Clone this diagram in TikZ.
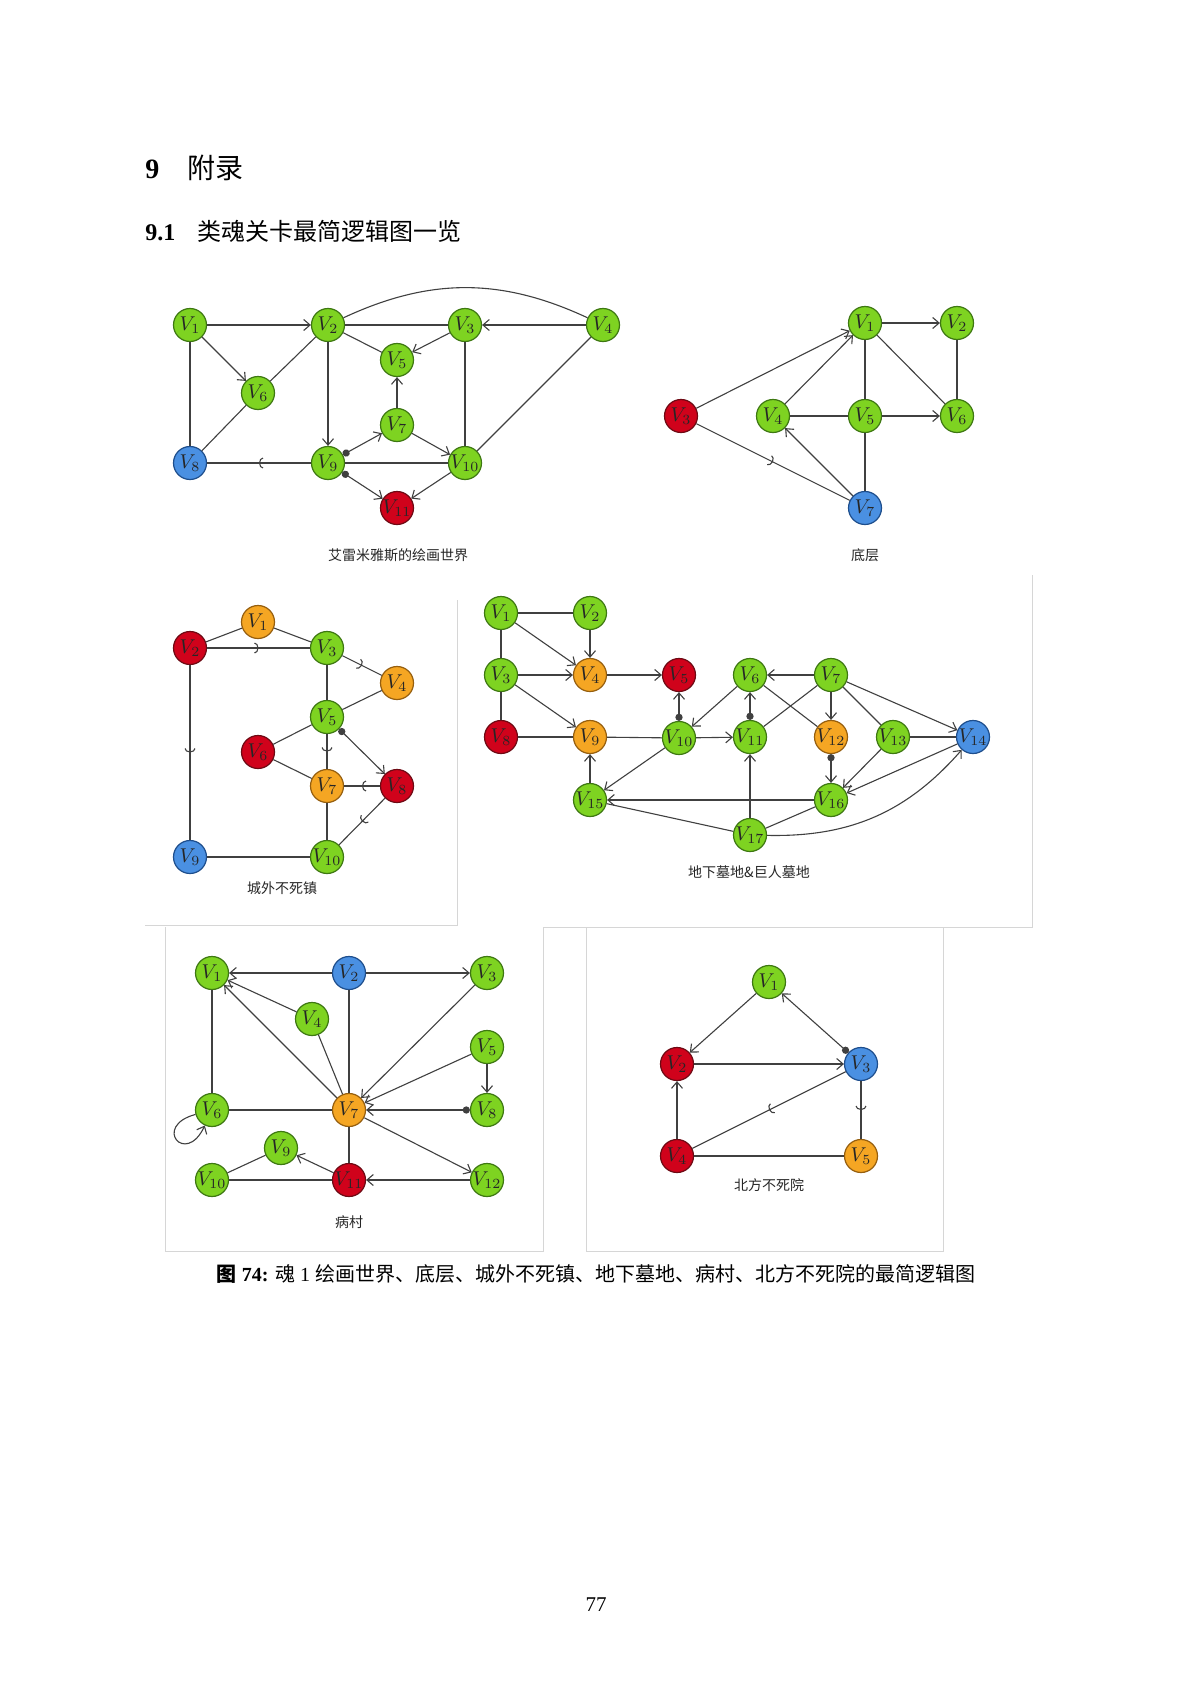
\documentclass[tikz,border=0pt]{standalone}
\usepackage{amsmath}
\usepackage{fontspec}
\setmainfont{Liberation Serif}
\newfontfamily\cjk{Noto Sans CJK SC}
\usepackage{tikz}
\usetikzlibrary{arrows.meta}
\usetikzlibrary{decorations.markings}

\definecolor{vgreen}{RGB}{126,211,33}
\definecolor{vgreenline}{RGB}{62,120,18}
\definecolor{vblue}{RGB}{74,144,226}
\definecolor{vblueline}{RGB}{30,78,140}
\definecolor{vred}{RGB}{208,2,27}
\definecolor{vredline}{RGB}{110,10,20}
\definecolor{vorange}{RGB}{245,166,35}
\definecolor{vorangeline}{RGB}{150,95,15}
\definecolor{edgegray}{RGB}{64,64,64}
\definecolor{framegray}{RGB}{214,214,214}

\tikzset{
	vtx/.style={circle, minimum size=16.5pt, inner sep=0pt, line width=0.6pt, text=black!85, font=\fontsize{10}{10}\selectfont},
	gv/.style={vtx, fill=vgreen, draw=vgreenline},
	bv/.style={vtx, fill=vblue, draw=vblueline},
	rv/.style={vtx, fill=vred, draw=vredline},
	ov/.style={vtx, fill=vorange, draw=vorangeline},
	ln/.style={draw=edgegray, line width=0.55pt},
	dotarr/.style={{Circle[length=3.6pt]}->},
	arcmark/.style={decoration={markings, mark=at position 0.5 with {\arrow{Arc Barb[width=5.5pt, length=2pt]}}}, postaction={decorate}},
	panelcap/.style={font=\cjk\fontsize{7}{7}\selectfont, text=black!85},
	panelline/.style={draw=framegray, line width=0.5pt},
	txt/.style={inner sep=0pt, anchor=base west},
}

\begin{document}
\begin{tikzpicture}[x=0.5pt, y=0.5pt, >={Straight Barb[length=3.2pt, width=5.5pt]}]
			\useasboundingbox [fill=white] (0, 0) rectangle (1192, -1686);
			% headings
			\node at (145, -178) [txt, font=\fontsize{14}{14}\selectfont\bfseries] (secnum) {9};
			\node at (187, -178) [txt, font=\cjk\fontsize{14}{14}\selectfont] (sectitle) {附录};
			\node at (145, -240) [txt, font=\fontsize{12}{12}\selectfont\bfseries] (subsecnum) {9.1};
			\node at (197, -240) [txt, font=\cjk\fontsize{12}{12}\selectfont] (subsectitle) {类魂关卡最简逻辑图一览};
			% panel borders
			\draw [panelline] (457, -600) -- (457, -925) -- (145, -925);
			\draw [panelline] (543, -927) -- (1032, -927) -- (1032, -575);
			\draw [panelline] (543, -927) -- (543, -1251) -- (165, -1251) -- (165, -927);
			\draw [panelline] (586, -927) -- (586, -1251) -- (943, -1251) -- (943, -927);

			% 绘画世界
			\node at (190, -325) [gv] (paint1) {$V_{1}$};
			\node at (328, -325) [gv] (paint2) {$V_{2}$};
			\node at (465, -325) [gv] (paint3) {$V_{3}$};
			\node at (603, -325) [gv] (paint4) {$V_{4}$};
			\node at (397, -360) [gv] (paint5) {$V_{5}$};
			\node at (258, -393) [gv] (paint6) {$V_{6}$};
			\node at (397, -425) [gv] (paint7) {$V_{7}$};
			\node at (190, -463) [bv] (paint8) {$V_{8}$};
			\node at (328, -463) [gv] (paint9) {$V_{9}$};
			\node at (465, -463) [gv] (paint10) {$V_{10}$};
			\node at (397, -508) [rv] (paint11) {$V_{11}$};
			\node at (398, -555) [panelcap] (paintcap) {艾雷米雅斯的绘画世界};
			\draw [->, ln](paint1) -- (paint2);
			\draw [->, ln](paint1) -- (paint6);
			\draw [ln](paint1) -- (paint8);
			\draw [ln](paint2) -- (paint6);
			\draw [ln](paint6) -- (paint8);
			\draw [ln](paint2) -- (paint3);
			\draw [ln](paint2) -- (paint5);
			\draw [->, ln](paint2) -- (paint9);
			\draw [ln](paint2) to [bend left=25] (paint4);
			\draw [->, ln](paint3) -- (paint5);
			\draw [->, ln](paint4) -- (paint3);
			\draw [ln](paint3) -- (paint10);
			\draw [ln](paint4) -- (paint10);
			\draw [->, ln](paint7) -- (paint5);
			\draw [dotarr, ln](paint9) -- (paint7);
			\draw [->, ln](paint7) -- (paint10);
			\draw [ln](paint9) -- (paint10);
			\draw [ln, arcmark](paint9) -- (paint8);
			\draw [dotarr, ln](paint9) -- (paint11);
			\draw [->, ln](paint10) -- (paint11);

			% 底层
			\node at (865, -323) [gv] (base1) {$V_{1}$};
			\node at (957, -323) [gv] (base2) {$V_{2}$};
			\node at (681, -416) [rv] (base3) {$V_{3}$};
			\node at (773, -416) [gv] (base4) {$V_{4}$};
			\node at (865, -416) [gv] (base5) {$V_{5}$};
			\node at (957, -416) [gv] (base6) {$V_{6}$};
			\node at (865, -508) [bv] (base7) {$V_{7}$};
			\node at (865, -555) [panelcap] (basecap) {底层};
			\draw [->, ln](base1) -- (base2);
			\draw [->, ln](base3) -- (base1);
			\draw [->, ln](base4) -- (base1);
			\draw [ln](base1) -- (base5);
			\draw [ln](base1) -- (base6);
			\draw [ln](base2) -- (base6);
			\draw [ln](base4) -- (base5);
			\draw [->, ln](base5) -- (base6);
			\draw [ln](base5) -- (base7);
			\draw [->, ln](base7) -- (base4);
			\draw [ln, arcmark](base3) -- (base7);

			% 城外不死镇
			\node at (258, -622) [ov] (town1) {$V_{1}$};
			\node at (190, -648) [rv] (town2) {$V_{2}$};
			\node at (327, -648) [gv] (town3) {$V_{3}$};
			\node at (397, -683) [ov] (town4) {$V_{4}$};
			\node at (327, -717) [gv] (town5) {$V_{5}$};
			\node at (258, -752) [rv] (town6) {$V_{6}$};
			\node at (327, -786) [ov] (town7) {$V_{7}$};
			\node at (397, -786) [rv] (town8) {$V_{8}$};
			\node at (190, -857) [bv] (town9) {$V_{9}$};
			\node at (327, -857) [gv] (town10) {$V_{10}$};
			\node at (282, -888) [panelcap] (towncap) {城外不死镇};
			\draw [ln](town1) -- (town2);
			\draw [ln](town1) -- (town3);
			\draw [ln, arcmark](town2) -- (town3);
			\draw [ln, arcmark](town3) -- (town4);
			\draw [ln](town3) -- (town5);
			\draw [ln](town4) -- (town5);
			\draw [ln](town5) -- (town6);
			\draw [ln, arcmark](town5) -- (town7);
			\draw [dotarr, ln](town5) -- (town8);
			\draw [ln](town6) -- (town7);
			\draw [ln, arcmark](town8) -- (town7);
			\draw [ln](town7) -- (town10);
			\draw [ln, arcmark](town8) -- (town10);
			\draw [ln, arcmark](town2) -- (town9);
			\draw [ln](town9) -- (town10);

			% 地下墓地&巨人墓地
			\node at (501, -613) [gv] (tomb1) {$V_{1}$};
			\node at (590, -613) [gv] (tomb2) {$V_{2}$};
			\node at (501, -675) [gv] (tomb3) {$V_{3}$};
			\node at (590, -675) [ov] (tomb4) {$V_{4}$};
			\node at (679, -675) [rv] (tomb5) {$V_{5}$};
			\node at (750, -675) [gv] (tomb6) {$V_{6}$};
			\node at (831, -675) [gv] (tomb7) {$V_{7}$};
			\node at (501, -737) [rv] (tomb8) {$V_{8}$};
			\node at (590, -737) [ov] (tomb9) {$V_{9}$};
			\node at (679, -738) [gv] (tomb10) {$V_{10}$};
			\node at (750, -737) [gv] (tomb11) {$V_{11}$};
			\node at (831, -737) [ov] (tomb12) {$V_{12}$};
			\node at (893, -737) [gv] (tomb13) {$V_{13}$};
			\node at (973, -737) [bv] (tomb14) {$V_{14}$};
			\node at (590, -800) [gv] (tomb15) {$V_{15}$};
			\node at (831, -800) [gv] (tomb16) {$V_{16}$};
			\node at (750, -835) [gv] (tomb17) {$V_{17}$};
			\node at (749, -872) [panelcap] (tombcap) {地下墓地\&巨人墓地};
			\draw [ln](tomb1) -- (tomb2);
			\draw [ln](tomb1) -- (tomb3);
			\draw [->, ln](tomb1) -- (tomb4);
			\draw [->, ln](tomb2) -- (tomb4);
			\draw [->, ln](tomb3) -- (tomb4);
			\draw [ln](tomb3) -- (tomb8);
			\draw [->, ln](tomb3) -- (tomb9);
			\draw [->, ln](tomb4) -- (tomb5);
			\draw [ln](tomb8) -- (tomb9);
			\draw [ln](tomb9) -- (tomb10);
			\draw [dotarr, ln](tomb10) -- (tomb5);
			\draw [->, ln](tomb6) -- (tomb10);
			\draw [->, ln](tomb10) -- (tomb11);
			\draw [->, ln](tomb10) -- (tomb15);
			\draw [dotarr, ln](tomb11) -- (tomb6);
			\draw [->, ln](tomb7) -- (tomb6);
			\draw [ln](tomb6) -- (tomb12);
			\draw [ln](tomb7) -- (tomb11);
			\draw [->, ln](tomb7) -- (tomb12);
			\draw [ln](tomb7) -- (tomb13);
			\draw [->, ln](tomb7) -- (tomb14);
			\draw [ln](tomb13) -- (tomb14);
			\draw [->, ln](tomb13) -- (tomb16);
			\draw [->, ln](tomb14) -- (tomb16);
			\draw [dotarr, ln](tomb12) -- (tomb16);
			\draw [->, ln](tomb16) -- (tomb15);
			\draw [->, ln](tomb15) -- (tomb9);
			\draw [ln](tomb15) -- (tomb17);
			\draw [->, ln](tomb17) -- (tomb11);
			\draw [ln](tomb17) -- (tomb16);
			\draw [->, ln](tomb17) to [bend right=25] (tomb14);

			% 病村
			\node at (212, -973) [gv] (village1) {$V_{1}$};
			\node at (349, -973) [bv] (village2) {$V_{2}$};
			\node at (487, -973) [gv] (village3) {$V_{3}$};
			\node at (312, -1019) [gv] (village4) {$V_{4}$};
			\node at (487, -1047) [gv] (village5) {$V_{5}$};
			\node at (212, -1110) [gv] (village6) {$V_{6}$};
			\node at (349, -1110) [ov] (village7) {$V_{7}$};
			\node at (487, -1110) [gv] (village8) {$V_{8}$};
			\node at (281, -1148) [gv] (village9) {$V_{9}$};
			\node at (212, -1180) [gv] (village10) {$V_{10}$};
			\node at (349, -1180) [rv] (village11) {$V_{11}$};
			\node at (487, -1180) [gv] (village12) {$V_{12}$};
			\node at (349, -1222) [panelcap] (villagecap) {病村};
			\draw [->, ln](village2) -- (village1);
			\draw [->, ln](village2) -- (village3);
			\draw [->, ln](village4) -- (village1);
			\draw [->, ln](village7) -- (village1);
			\draw [ln](village1) -- (village6);
			\draw [->, ln](village6) to [out=195, in=245, looseness=8] (village6);
			\draw [ln](village2) -- (village7);
			\draw [ln](village4) -- (village7);
			\draw [->, ln](village3) -- (village7);
			\draw [->, ln](village5) -- (village7);
			\draw [->, ln](village5) -- (village8);
			\draw [dotarr, ln](village8) -- (village7);
			\draw [ln](village6) -- (village7);
			\draw [->, ln](village7) -- (village12);
			\draw [ln](village7) -- (village11);
			\draw [->, ln](village11) -- (village9);
			\draw [ln](village9) -- (village10);
			\draw [ln](village10) -- (village11);
			\draw [->, ln](village12) -- (village11);

			% 北方不死院
			\node at (769, -982) [gv] (asylum1) {$V_{1}$};
			\node at (677, -1064) [rv] (asylum2) {$V_{2}$};
			\node at (861, -1064) [bv] (asylum3) {$V_{3}$};
			\node at (677, -1156) [rv] (asylum4) {$V_{4}$};
			\node at (861, -1156) [ov] (asylum5) {$V_{5}$};
			\node at (769, -1185) [panelcap] (asylumcap) {北方不死院};
			\draw [->, ln](asylum1) -- (asylum2);
			\draw [dotarr, ln](asylum3) -- (asylum1);
			\draw [->, ln](asylum2) -- (asylum3);
			\draw [->, ln](asylum4) -- (asylum2);
			\draw [ln, arcmark](asylum3) -- (asylum4);
			\draw [ln, arcmark](asylum3) -- (asylum5);
			\draw [ln](asylum4) -- (asylum5);

			% caption and page number
			\node at (596, -1281) [inner sep=0pt, anchor=base, font=\fontsize{10}{10}\selectfont] (figcap) {{\cjk\bfseries 图} {\bfseries 74:} {\cjk 魂} 1 {\cjk 绘画世界、底层、城外不死镇、地下墓地、病村、北方不死院的最简逻辑图}};
			\node at (596, -1611) [inner sep=0pt, anchor=base, font=\fontsize{10.5}{10.5}\selectfont] (pagenum) {77};
		\end{tikzpicture}
\end{document}
